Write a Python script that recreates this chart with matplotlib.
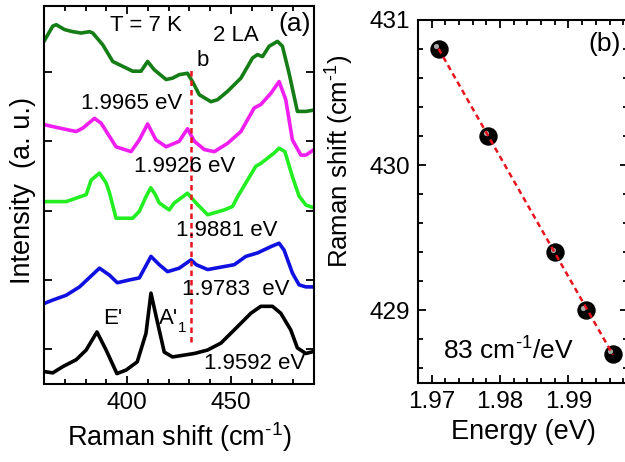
import numpy as np
import matplotlib
matplotlib.use("Agg")
import matplotlib.pyplot as plt
from matplotlib.ticker import MultipleLocator, FixedLocator, NullFormatter, FuncFormatter
import matplotlib.transforms as mtransforms

plt.rcParams['font.family'] = ['Liberation Sans', 'DejaVu Sans']
plt.rcParams['mathtext.fontset'] = 'custom'
plt.rcParams['mathtext.rm'] = 'Liberation Sans'
plt.rcParams['mathtext.it'] = 'Liberation Sans:italic'
plt.rcParams['mathtext.bf'] = 'Liberation Sans:bold'

# ---------------- (a) Raman spectra at different excitation energies ----------------
wn_1_9965 = [360, 364.2, 365.9, 369.9, 373.8, 377.9, 381.9, 383.5, 388.3, 393.1, 397.9,
             402.7, 406.7, 409.9, 413.1, 418.8, 421.9, 425.1, 429.1, 431.5, 434.8, 440.4,
             443.6, 448.4, 454.8, 460.4, 462.8, 465.2, 468.4, 472.4, 474.8, 478.0, 482.0,
             486.1, 490]
int_1_9965 = [4.94, 5.16, 5.18, 5.11, 5.08, 5.06, 5.08, 5.06, 4.89, 4.65, 4.58,
              4.51, 4.51, 4.65, 4.53, 4.39, 4.41, 4.46, 4.48, 4.36, 4.17, 4.07,
              4.10, 4.22, 4.41, 4.70, 4.75, 4.72, 4.87, 4.94, 4.87, 4.48, 3.93,
              3.93, 3.95]

wn_1_9926 = [360, 367.5, 375.5, 378.7, 384.3, 387.5, 394.7, 401.9, 405.9, 409.9, 413.9,
             418.8, 425.1, 429.1, 432.4, 437.2, 442.0, 448.4, 454.8, 461.2, 464.4, 469.2,
             473.2, 476.4, 479.6, 483.7, 486.1, 490]
int_1_9926 = [3.74, 3.69, 3.64, 3.69, 3.83, 3.76, 3.42, 3.35, 3.52, 3.75, 3.52,
              3.42, 3.50, 3.68, 3.50, 3.38, 3.35, 3.47, 3.64, 3.98, 4.03, 4.19,
              4.36, 4.10, 3.52, 3.30, 3.30, 3.38]

wn_1_9881 = [360, 370.7, 375.5, 380.3, 382.7, 386.7, 389.9, 391.5, 394.7, 402.7, 405.9,
             409.1, 411.4, 413.6, 415.5, 420.3, 422.7, 429.1, 433.2, 438.8, 446.8, 450.8,
             453.2, 462.0, 464.4, 470.8, 473.2, 476.0, 479.6, 482.8, 486.1, 490]
int_1_9881 = [2.63, 2.63, 2.68, 2.73, 2.94, 3.04, 2.90, 2.76, 2.39, 2.39, 2.49,
              2.70, 2.83, 2.73, 2.61, 2.51, 2.61, 2.75, 2.61, 2.44, 2.51, 2.56,
              2.70, 3.14, 3.18, 3.33, 3.40, 3.35, 2.99, 2.71, 2.58, 2.54]

wn_1_9783 = [360, 364.2, 370.7, 377.1, 386.7, 391.5, 395.3, 401.1, 405.9, 411.5, 415.5,
             419.5, 425.1, 430.8, 433.3, 438.8, 451.6, 457.2, 462.8, 469.2, 473.2, 475.6,
             479.6, 482.8, 486.1, 490]
int_1_9783 = [1.16, 1.21, 1.28, 1.40, 1.67, 1.57, 1.46, 1.50, 1.53, 1.84, 1.72,
              1.62, 1.67, 1.79, 1.72, 1.65, 1.72, 1.84, 1.89, 1.98, 2.03, 1.93,
              1.60, 1.43, 1.40, 1.40]

wn_1_9592 = [360, 364.2, 369.0, 375.5, 380.3, 385.5, 389.9, 395.1, 399.5, 404.9, 409.1,
             411.5, 414.7, 417.9, 421.9, 432.4, 438.8, 445.2, 451.6, 459.6, 464.4, 470.0,
             474.0, 478.8, 482.0, 486.1, 490]
int_1_9592 = [0.18, 0.16, 0.25, 0.35, 0.49, 0.75, 0.49, 0.15, 0.20, 0.32, 0.73,
              1.31, 0.88, 0.46, 0.39, 0.44, 0.49, 0.59, 0.78, 1.02, 1.12, 1.12,
              1.02, 0.78, 0.52, 0.44, 0.47]

spectra = [
    (wn_1_9965, int_1_9965, '#157d15', '1.9965 eV', (402.1, 4.05)),
    (wn_1_9926, int_1_9926, '#f01ef0', '1.9926 eV', (427.6, 3.13)),
    (wn_1_9881, int_1_9881, '#22ee22', '1.9881 eV', (448.2, 2.22)),
    (wn_1_9783, int_1_9783, '#1010e0', '1.9783  eV', (452.1, 1.36)),
    (wn_1_9592, int_1_9592, '#000000', '1.9592 eV', (461.3, 0.29)),
]

b_mode_position = 431.0

# ---------------- (b) b-mode shift versus excitation energy ----------------
energy = [1.9710, 1.9783, 1.9881, 1.9926, 1.9965]
b_shift = [430.80, 430.20, 429.40, 429.00, 428.70]

fig = plt.figure(figsize=(6.25, 4.62), dpi=100)
ax1 = fig.add_axes([44 / 625, 78 / 462, 270 / 625, 378 / 462])
ax2 = fig.add_axes([418 / 625, 79 / 462, 210 / 625, 363 / 462])

TICK_FS = 17.5
LABEL_FS = 19.5
ANN_FS = 16

for x, y, c, lab, pos in spectra:
    ax1.plot(x, y, color=c, lw=2.6, solid_joinstyle='round', solid_capstyle='round')
    ax1.text(pos[0], pos[1], lab, fontsize=ANN_FS, ha='center', va='center')

ax1.plot([b_mode_position, b_mode_position], [0.61, 4.55], color='#e8141e',
         lw=1.8, ls=(0, (2.2, 1.6)))
ax1.text(436.2, 4.66, 'b', fontsize=ANN_FS, ha='center', va='center')
ax1.text(409.3, 5.17, 'T = 7 K', fontsize=ANN_FS, ha='center', va='center')
ax1.text(452.6, 5.02, '2 LA', fontsize=ANN_FS, ha='center', va='center')
ax1.text(480.5, 5.19, '(a)', fontsize=19, ha='center', va='center')
ax1.text(393.0, 0.95, "E'", fontsize=ANN_FS, ha='center', va='center')
ax1.text(419.9, 0.95, "A'", fontsize=ANN_FS, ha='center', va='center')
ax1.text(426.6, 0.81, "1", fontsize=11, ha='center', va='center')

ax1.set_xlim(360, 490)
ax1.set_ylim(0, 5.45)
ax1.xaxis.set_major_locator(FixedLocator([400, 450]))
ax1.xaxis.set_minor_locator(MultipleLocator(10))
ax1.yaxis.set_major_locator(FixedLocator([0.5, 1.5, 2.5, 3.5, 4.5]))
ax1.yaxis.set_major_formatter(NullFormatter())
ax1.set_xlabel(r'Raman shift (cm$^{\text{-}1}$)', fontsize=LABEL_FS, labelpad=4)
ax1.set_ylabel('Intensity  (a. u.)', fontsize=LABEL_FS)
ax1.yaxis.set_label_coords(-0.03, 0.513)

# fit line through the b-mode positions
slope, intercept = np.polyfit(energy, b_shift, 1)
e_line = np.array([min(energy), max(energy)])
ax2.scatter(energy, b_shift, s=150, color='black', zorder=3)
hl = mtransforms.offset_copy(ax2.transData, fig=fig, x=-2.0, y=2.0, units='points')
ax2.scatter(energy, b_shift, s=14, color='#a8a8a8', zorder=4, transform=hl, lw=0)
ax2.plot(e_line, slope * e_line + intercept, color='#e8141e', lw=1.8,
         ls=(0, (2.2, 1.6)), zorder=5)
ax2.text(1.98117, 428.718, r'83 cm$^{\text{-}1}$/eV', fontsize=19, ha='center', va='center')
ax2.text(1.99523, 430.835, '(b)', fontsize=19, ha='center', va='center')

ax2.set_xlim(1.968, 1.9987)
ax2.set_ylim(428.5, 431)
ax2.xaxis.set_major_locator(FixedLocator([1.97, 1.98, 1.99]))
ax2.xaxis.set_minor_locator(MultipleLocator(0.002))
ax2.yaxis.set_major_locator(FixedLocator([429, 430, 431]))
ax2.yaxis.set_minor_locator(MultipleLocator(0.2))
ax2.xaxis.set_major_formatter(FuncFormatter(lambda v, p: f'{v:.2f}'))
ax2.yaxis.set_major_formatter(FuncFormatter(lambda v, p: f'{v:.0f}'))
ax2.set_xlabel('Energy (eV)', fontsize=LABEL_FS, labelpad=4)
ax2.set_ylabel(r'Raman shift (cm$^{\text{-}1}$)', fontsize=18.5)
ax2.yaxis.set_label_coords(-0.295, 0.61)

for ax in (ax1, ax2):
    for sp in ax.spines.values():
        sp.set_linewidth(1.5)
    ax.tick_params(which='both', direction='in', top=True, right=True,
                   labelsize=TICK_FS, width=1.3)
    ax.tick_params(which='major', length=6, pad=6)
    ax.tick_params(which='minor', length=3.5)

fig.savefig('out.png', dpi=100)
